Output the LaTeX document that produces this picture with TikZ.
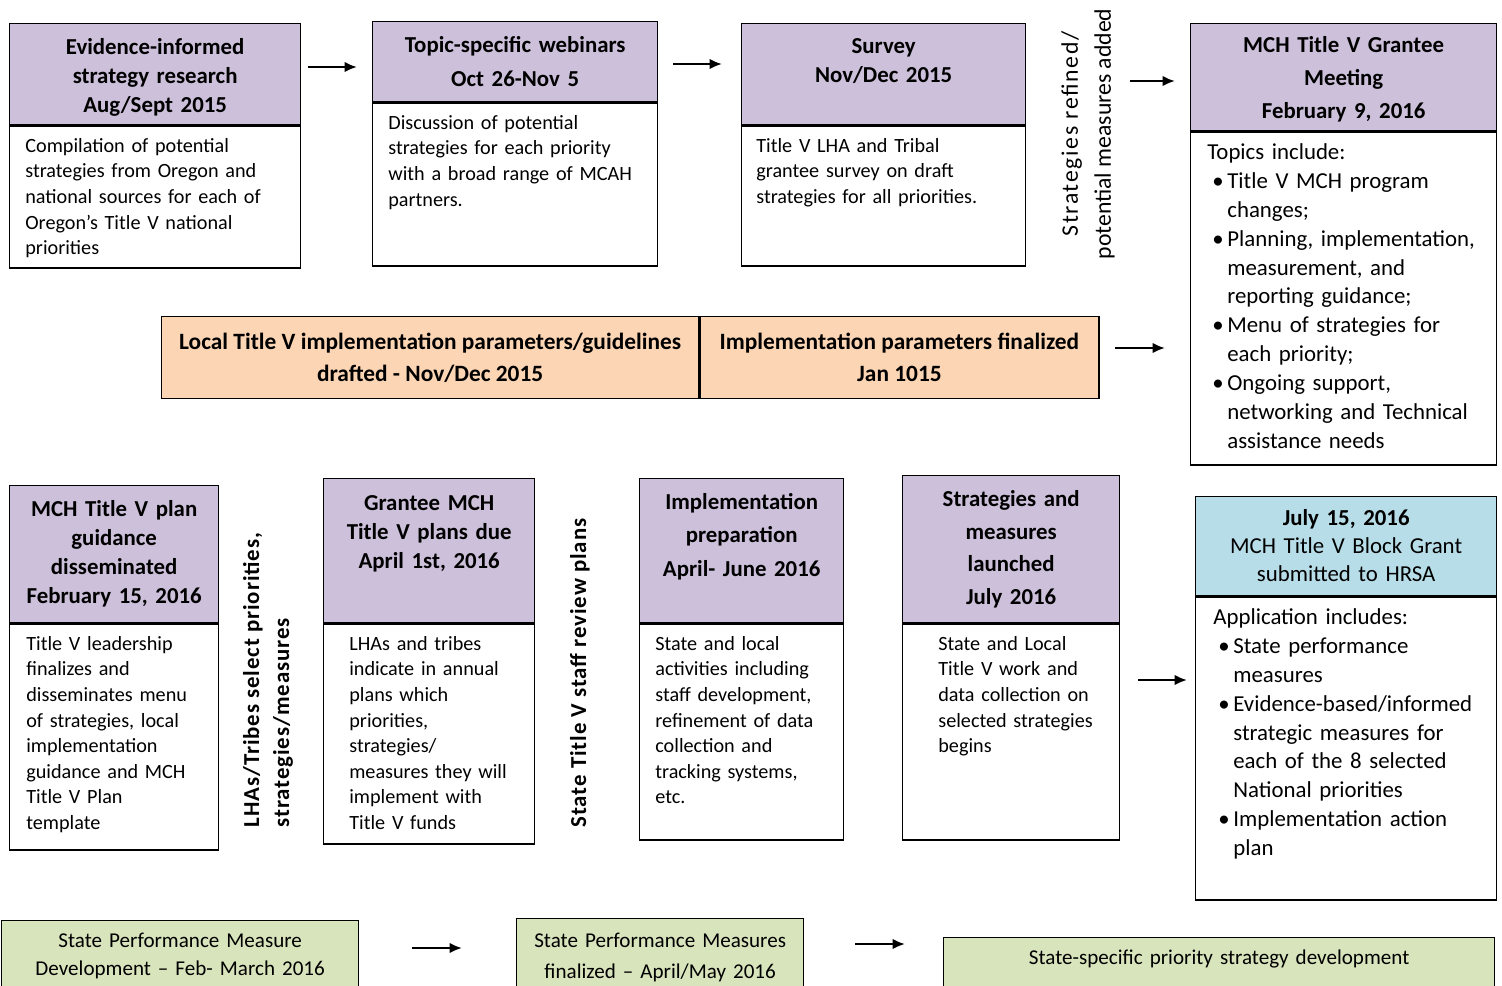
\documentclass[tikz,border=0pt]{standalone}
\usepackage{fontspec}
\setmainfont{Carlito}
\usepackage{xcolor}
\usetikzlibrary{arrows.meta,positioning}

\definecolor{lav}{HTML}{CCC0DA}
\definecolor{skyb}{HTML}{B7DEE8}
\definecolor{peach}{HTML}{FCD5B4}
\definecolor{sage}{HTML}{D8E4BC}

% bullet lines inside the text boxes
\newcommand{\bitem}{\hspace*{0.1cm}\makebox[0.3cm][l]{\textbullet}}
\newcommand{\bcont}{\hspace*{0.4cm}}

\begin{document}
\begin{tikzpicture}[x=0.02cm, y=-0.02cm,
    frame/.style={draw, line width=0.8pt, anchor=north west, inner sep=0pt},
    hd/.style={frame, fill=lav},
    bd/.style={frame, fill=white},
    ttl/.style={anchor=north, align=center, inner xsep=0pt, inner ysep=8.5pt,
      font=\bfseries\fontsize{13}{16.5}\selectfont},
    txt/.style={anchor=north west, align=left, inner xsep=0.32cm, inner ysep=7pt,
      font=\fontsize{11.5}{14.6}\selectfont},
    bigtxt/.style={txt, font=\fontsize{13}{16.4}\selectfont},
    side/.style={rotate=90, align=left,
      font=\bfseries\fontsize{13}{17}\selectfont\addfontfeature{LetterSpace=4}},
    arr/.style={-{Latex[length=7pt,width=6pt]}, line width=1.3pt}]

    \clip (0,0) rectangle (1502,985);
    \fill[white] (0,0) rectangle (1502,985);

    % Row 1
    \node[hd, minimum width=5.82cm, minimum height=2.02cm] (h1) at (9,23) {};
    \node[bd, minimum width=5.82cm, minimum height=2.84cm] (b1) at (h1.south west) {};
    \node[ttl, text width=5.6cm] (t1) at (h1.north) {Evidence-informed\\strategy research\\Aug/Sept 2015};
    \node[txt, text width=5.4cm] (s1) at (b1.north west) {Compilation of potential\\strategies from Oregon and\\national sources for each of\\Oregon’s Title V national\\priorities};

    \node[hd, minimum width=5.70cm, minimum height=1.60cm] (h2) at (372,21) {};
    \node[bd, minimum width=5.70cm, minimum height=3.26cm] (b2) at (h2.south west) {};
    \node[ttl, text width=5.5cm, font=\bfseries\fontsize{13}{19.3}\selectfont] (t2) at (h2.north) {Topic-specific webinars\\Oct 26-Nov 5};
    \node[txt, text width=5.3cm] (s2) at (b2.north west) {Discussion of potential\\strategies for each priority\\with a broad range of MCAH\\partners.};

    \node[hd, minimum width=5.68cm, minimum height=2.02cm] (h3) at (741,23) {};
    \node[bd, minimum width=5.68cm, minimum height=2.80cm] (b3) at (h3.south west) {};
    \node[ttl, text width=5.5cm] (t3) at (h3.north) {Survey\\Nov/Dec 2015};
    \node[txt, text width=5.3cm, inner xsep=0.3cm] (s3) at (b3.north west) {Title V LHA and Tribal\\grantee survey on draft\\strategies for all priorities.};

    \node[side, align=center, font=\fontsize{13.5}{18.8}\selectfont] (r1) at (1088,134)
      {{\addfontfeature{LetterSpace=7}Strategies refined/}\\potential measures added};

    \node[hd, minimum width=6.12cm, minimum height=2.14cm] (h4) at (1190,23) {};
    \node[bd, minimum width=6.12cm, minimum height=6.66cm] (b4) at (h4.south west) {};
    \node[ttl, text width=5.9cm, inner ysep=7.5pt, font=\bfseries\fontsize{13}{18.8}\selectfont] (t4) at (h4.north) {MCH Title V Grantee\\Meeting\\February 9, 2016};
    \node[bigtxt, text width=5.8cm, inner xsep=0.34cm] (s4) at (b4.north west) {Topics include:\\
      \bitem Title V MCH program\\\bcont changes;\\
      \bitem Planning, implementation,\\\bcont measurement, and\\\bcont reporting guidance;\\
      \bitem Menu of strategies for\\\bcont each priority;\\
      \bitem Ongoing support,\\\bcont networking and Technical\\\bcont assistance needs};

    % Row 1 arrows
    \coordinate (a1s) at (308,67);  \coordinate (a1e) at (357,67);
    \coordinate (a2s) at (673,64);  \coordinate (a2e) at (722,64);
    \coordinate (a3s) at (1130,81); \coordinate (a3e) at (1175,81);
    \draw[arr] (a1s) -- (a1e);
    \draw[arr] (a2s) -- (a2e);
    \draw[arr] (a3s) -- (a3e);

    % Local parameters bar
    \node[frame, fill=peach, minimum width=10.74cm, minimum height=1.64cm, align=center,
      font=\bfseries\fontsize{13.3}{18.2}\selectfont] (o1) at (161,316)
      {Local Title V implementation parameters/guidelines\\drafted - Nov/Dec 2015};
    \node[frame, fill=peach, minimum width=7.98cm, minimum height=1.64cm, align=center,
      font=\bfseries\fontsize{13.3}{18.2}\selectfont] (o2) at (o1.north east)
      {Implementation parameters finalized\\Jan 1015};
    \coordinate (a4s) at (1115,348); \coordinate (a4e) at (1165,348);
    \draw[arr] (a4s) -- (a4e);

    % Row 2
    \node[hd, minimum width=4.18cm, minimum height=2.74cm] (h5) at (9,485) {};
    \node[bd, minimum width=4.18cm, minimum height=4.52cm] (b5) at (h5.south west) {};
    \node[ttl, text width=4.0cm] (t5) at (h5.north) {MCH Title V plan\\guidance\\disseminated\\February 15, 2016};
    \node[txt, text width=3.8cm, inner xsep=0.34cm] (s5) at (b5.north west) {Title V leadership\\finalizes and\\disseminates menu\\of strategies, local\\implementation\\guidance and MCH\\Title V Plan\\template};

    \node[side] (r2) at (268,680) {LHAs/Tribes select priorities,\\strategies/measures};

    \node[hd, minimum width=4.22cm, minimum height=2.88cm] (h6) at (323,478) {};
    \node[bd, minimum width=4.22cm, minimum height=4.40cm] (b6) at (h6.south west) {};
    \node[ttl, text width=4.1cm, inner ysep=10pt] (t6) at (h6.north) {Grantee MCH\\Title V plans due\\April 1st, 2016};
    \node[txt, text width=3.6cm, inner xsep=0.52cm] (s6) at (b6.north west) {LHAs and tribes\\indicate in annual\\plans which\\priorities,\\strategies/\\measures they will\\implement with\\Title V funds};

    \node[side] (r3) at (580,673) {State Title V staff review plans};

    \node[hd, minimum width=4.08cm, minimum height=2.88cm] (h7) at (639,478) {};
    \node[bd, minimum width=4.08cm, minimum height=4.32cm] (b7) at (h7.south west) {};
    \node[ttl, text width=3.9cm, font=\bfseries\fontsize{13}{19}\selectfont] (t7) at (h7.north) {Implementation\\preparation\\April- June 2016};
    \node[txt, text width=3.7cm] (s7) at (b7.north west) {State and local\\activities including\\staff development,\\refinement of data\\collection and\\tracking systems,\\etc.};

    \node[hd, minimum width=4.34cm, minimum height=2.94cm] (h8) at (902,475) {};
    \node[bd, minimum width=4.34cm, minimum height=4.32cm] (b8) at (h8.south west) {};
    \node[ttl, text width=4.1cm, font=\bfseries\fontsize{13}{18.6}\selectfont] (t8) at (h8.north) {Strategies and\\measures\\launched\\July 2016};
    \node[txt, text width=3.5cm, inner xsep=0.72cm] (s8) at (b8.north west) {State and Local\\Title V work and\\data collection on\\selected strategies\\begins};

    \coordinate (a5s) at (1138,680); \coordinate (a5e) at (1187,680);
    \draw[arr] (a5s) -- (a5e);

    \node[hd, fill=skyb, minimum width=6.02cm, minimum height=1.98cm] (h9) at (1195,496) {};
    \node[bd, minimum width=6.02cm, minimum height=6.06cm] (b9) at (h9.south west) {};
    \node[ttl, text width=5.8cm, inner ysep=7.3pt, font=\fontsize{13}{16}\selectfont] (t9) at (h9.north) {\textbf{July 15, 2016}\\MCH Title V Block Grant\\submitted to HRSA};
    \node[bigtxt, text width=5.6cm, inner xsep=0.36cm] (s9) at (b9.north west) {Application includes:\\
      \bitem State performance\\\bcont measures\\
      \bitem Evidence-based/informed\\\bcont strategic measures for\\\bcont each of the 8 selected\\\bcont National priorities\\
      \bitem Implementation action\\\bcont plan};

    % Row 3
    \node[frame, fill=sage, minimum width=7.14cm, minimum height=2cm] (g1) at (1,920) {};
    \node[ttl, text width=7cm, inner ysep=7.3pt, font=\fontsize{12}{16}\selectfont] (u1) at (g1.north) {State Performance Measure\\Development – Feb- March 2016};
    \node[frame, fill=sage, minimum width=5.74cm, minimum height=2cm] (g2) at (516,918) {};
    \node[ttl, text width=5.6cm, inner ysep=8.5pt, font=\fontsize{12}{17.5}\selectfont] (u2) at (g2.north) {State Performance Measures\\finalized – April/May 2016};
    \node[frame, fill=sage, minimum width=11.02cm, minimum height=2cm] (g3) at (943,937) {};
    \node[ttl, text width=10.8cm, inner ysep=7.3pt, font=\fontsize{12}{16}\selectfont] (u3) at (g3.north) {State-specific priority strategy development};

    \coordinate (a6s) at (412,948); \coordinate (a6e) at (462,948);
    \coordinate (a7s) at (855,944); \coordinate (a7e) at (905,944);
    \draw[arr] (a6s) -- (a6e);
    \draw[arr] (a7s) -- (a7e);
\end{tikzpicture}
\end{document}
